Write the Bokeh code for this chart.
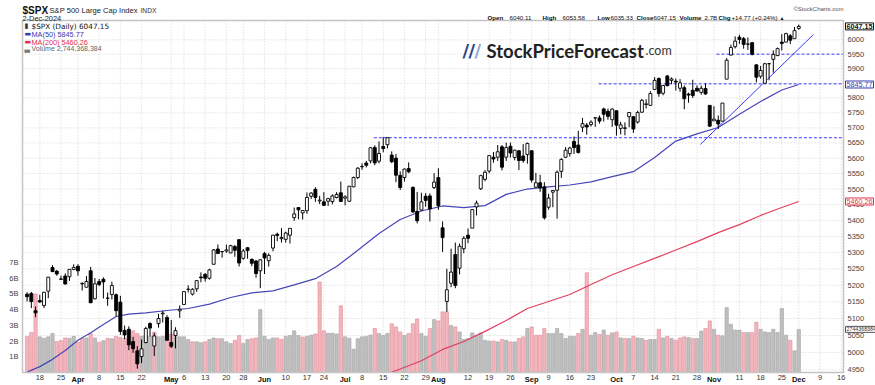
import math
from bokeh.plotting import figure
from bokeh.models import Range1d, LinearScale, Label, ColumnDataSource
from bokeh.core.properties import value
from bokeh.embed import file_html
from bokeh.resources import INLINE

# ---------------- data (daily, 13-Mar-2024 .. 2-Dec-2024) ----------------
opens = [5173, 5175, 5123, 5154, 5139, 5182, 5254, 5243, 5219, 5228, 5226, 5248,
         5258, 5204, 5194, 5244, 5159, 5211, 5218, 5161, 5172, 5171, 5149, 5065, 5068, 5032, 5005,
         4988, 5029, 5085, 5019, 5085, 5114, 5103,
         5029, 5050, 5123, 5142, 5188, 5173, 5189, 5225, 5233, 5221, 5264, 5311, 5303, 5305, 5299,
         5319, 5340, 5282, 5315, 5279, 5274, 5244,
         5297, 5275, 5314, 5357, 5343, 5341, 5354, 5409, 5441, 5424, 5431, 5477, 5499, 5462, 5459,
         5461, 5460, 5473, 5488,
         5471, 5461, 5507, 5537, 5572, 5584, 5591, 5635, 5590, 5638, 5644, 5610, 5600, 5544, 5537,
         5566, 5505, 5429, 5433, 5477, 5478, 5505,
         5537, 5377, 5151, 5206, 5294, 5252, 5312, 5354, 5376, 5443, 5501, 5531, 5558, 5603, 5603,
         5637, 5603, 5639, 5602, 5624, 5607, 5612,
         5624, 5506, 5520, 5507, 5442, 5490, 5496, 5557, 5603, 5615, 5655, 5643, 5702, 5709, 5711,
         5733, 5733, 5763, 5755, 5727,
         5757, 5698, 5698, 5737, 5737, 5719, 5752, 5778, 5775, 5829, 5866, 5816, 5875, 5860, 5857,
         5833, 5835, 5813, 5826, 5833, 5819, 5832, 5775,
         5723, 5725, 5722, 5864, 5947, 5976, 6009, 6004, 5985, 5990, 5913, 5874, 5850, 5917, 5932,
         5945, 5992, 5992, 6014, 6004,
         6040.11]
highs = [5179, 5180, 5136, 5171, 5180, 5225, 5261, 5246, 5229, 5236, 5249, 5264,
         5264, 5209, 5228, 5256, 5222, 5219, 5224, 5178, 5211, 5175, 5168, 5079, 5077, 5046, 5019,
         5038, 5076, 5089, 5057, 5114, 5123, 5110,
         5096, 5074, 5139, 5181, 5200, 5191, 5215, 5239, 5237, 5250, 5311, 5325, 5305, 5325, 5324,
         5323, 5341, 5311, 5316, 5282, 5277, 5280,
         5302, 5298, 5354, 5362, 5376, 5365, 5375, 5441, 5442, 5433, 5489, 5490, 5506, 5478, 5490,
         5472, 5483, 5490, 5524,
         5480, 5510, 5540, 5571, 5583, 5591, 5636, 5642, 5655, 5670, 5667, 5622, 5614, 5557, 5566,
         5586, 5509, 5491, 5488, 5487, 5486, 5551,
         5567, 5397, 5250, 5312, 5331, 5328, 5351, 5375, 5436, 5463, 5546, 5561, 5608, 5620, 5643,
         5643, 5651, 5651, 5628, 5627, 5646, 5651,
         5626, 5552, 5546, 5522, 5485, 5497, 5560, 5600, 5636, 5637, 5671, 5690, 5733, 5716, 5725,
         5735, 5741, 5767, 5764, 5765,
         5758, 5720, 5718, 5753, 5739, 5757, 5797, 5796, 5823, 5871, 5870, 5843, 5878, 5870, 5866,
         5864, 5842, 5818, 5862, 5843, 5842, 5850, 5775,
         5772, 5741, 5783, 5936, 5983, 6012, 6018, 6010, 6008, 5993, 5915, 5909, 5920, 5920, 5963,
         5973, 6020, 6025, 6020, 6045,
         6053.58]
lows = [5151, 5131, 5104, 5147, 5131, 5161, 5240, 5229, 5216, 5203, 5213, 5246,
        5229, 5184, 5194, 5146, 5157, 5197, 5160, 5138, 5157, 5107, 5052, 5039, 5007, 4999, 4953,
        4969, 5027, 5047, 4990, 5073, 5088, 5035,
        5013, 5012, 5102, 5142, 5178, 5169, 5180, 5209, 5211, 5217, 5263, 5296, 5284, 5299, 5298,
        5287, 5257, 5278, 5281, 5258, 5223, 5191,
        5234, 5257, 5304, 5335, 5331, 5331, 5328, 5399, 5404, 5403, 5421, 5468, 5459, 5452, 5447,
        5446, 5451, 5470, 5460,
        5448, 5459, 5507, 5532, 5562, 5570, 5583, 5577, 5583, 5619, 5632, 5584, 5522, 5497, 5524,
        5551, 5424, 5391, 5431, 5444, 5397, 5500,
        5434, 5302, 5120, 5194, 5191, 5233, 5298, 5329, 5376, 5416, 5497, 5525, 5551, 5585, 5591,
        5560, 5591, 5602, 5593, 5561, 5585, 5582,
        5521, 5504, 5491, 5403, 5434, 5442, 5406, 5536, 5601, 5605, 5614, 5615, 5686, 5677, 5704,
        5703, 5714, 5721, 5727, 5703,
        5674, 5678, 5675, 5702, 5683, 5714, 5750, 5764, 5775, 5829, 5804, 5809, 5840, 5847, 5825,
        5821, 5762, 5784, 5800, 5822, 5811, 5811, 5703,
        5723, 5696, 5722, 5864, 5945, 5970, 5986, 5969, 5965, 5946, 5853, 5866, 5850, 5860, 5886,
        5944, 5963, 5992, 5985, 6004,
        6035.33]
closes = [5165.31, 5150.48, 5117.09, 5149.42, 5178.51, 5224.62, 5241.53, 5234.18, 5218.19, 5203.58,
          5248.49, 5254.35,
          5243.77, 5205.81, 5211.49, 5147.21, 5204.34, 5202.39, 5209.91, 5160.64, 5199.06, 5123.41,
          5061.82, 5051.41, 5022.21, 5011.12, 4967.23, 5010.60, 5070.55, 5071.63, 5048.42, 5099.96,
          5116.17, 5035.69,
          5018.39, 5064.20, 5127.79, 5180.74, 5187.70, 5187.67, 5214.08, 5222.68, 5221.42, 5246.68,
          5308.15, 5297.10, 5303.27, 5308.13, 5321.41, 5307.01, 5267.84, 5304.72, 5306.04, 5266.95,
          5235.48, 5277.51,
          5283.40, 5291.34, 5354.03, 5352.96, 5346.99, 5360.79, 5375.32, 5421.03, 5433.74, 5431.60,
          5473.23, 5487.03, 5473.17, 5464.62, 5447.87, 5469.30, 5477.90, 5482.87, 5460.48,
          5475.09, 5509.01, 5537.02, 5567.19, 5572.85, 5576.98, 5633.91, 5584.54, 5615.35, 5631.22,
          5667.20, 5588.27, 5544.59, 5505.00, 5564.41, 5555.74, 5427.13, 5399.22, 5459.10, 5463.54,
          5436.44, 5522.30,
          5446.68, 5346.56, 5186.33, 5240.03, 5199.50, 5319.31, 5344.16, 5344.39, 5434.43, 5455.21,
          5543.22, 5554.25, 5608.25, 5597.12, 5620.85, 5570.64, 5634.61, 5616.84, 5625.80, 5592.18,
          5591.96, 5648.40,
          5528.93, 5520.07, 5503.41, 5408.42, 5471.05, 5495.52, 5554.13, 5595.76, 5626.02, 5633.09,
          5634.58, 5618.26, 5713.64, 5702.55, 5718.57, 5732.93, 5722.26, 5745.37, 5738.17, 5762.48,
          5708.75, 5709.54, 5699.94, 5751.07, 5695.94, 5751.13, 5792.04, 5780.05, 5815.03, 5859.85,
          5815.26, 5842.47, 5841.47, 5864.67, 5853.98, 5851.20, 5797.42, 5809.86, 5808.12, 5823.52,
          5832.92, 5813.67, 5705.45,
          5728.80, 5712.69, 5782.76, 5929.04, 5973.10, 5995.54, 6001.35, 5983.99, 5985.38, 5949.17,
          5870.62, 5893.62, 5916.98, 5917.11, 5948.71, 5969.34, 5987.37, 6021.63, 5998.74, 6032.38,
          6047.15]
volumes_b = [2.30, 2.55, 5.00, 2.27, 2.18, 2.27, 2.48, 1.97, 2.03, 2.20, 2.18, 2.30,
             1.93, 2.16, 2.20, 2.48, 2.20, 1.93, 2.03, 2.18, 2.14, 2.30, 2.22, 2.16, 2.27, 2.65, 2.48,
             2.30, 2.36, 2.30, 2.58, 2.27, 2.30, 2.62,
             2.45, 2.48, 2.27, 2.27, 2.10, 1.95, 1.95, 1.90, 1.95, 2.10, 2.20, 2.15, 2.15, 1.95, 1.85,
             2.05, 2.35, 1.85, 2.10, 2.15, 2.20, 4.00,
             2.30, 2.10, 2.20, 2.20, 2.10, 2.30, 2.35, 2.65, 2.35, 2.25, 2.30, 2.38, 2.45, 5.76, 2.65,
             2.50, 2.50, 2.45, 4.24,
             2.27, 2.18, 1.48, 2.15, 2.27, 2.30, 2.38, 2.80, 2.48, 2.36, 2.48, 3.10, 2.90, 2.58, 2.36,
             2.48, 3.10, 3.40, 2.48, 2.30, 2.80, 3.37,
             3.28, 3.86, 3.86, 3.00, 2.90, 2.58, 2.10, 2.16, 2.52, 2.37, 2.52, 2.05, 2.00, 2.00, 1.95,
             2.10, 2.05, 1.95, 1.95, 2.16, 2.27, 2.80,
             2.90, 2.37, 2.37, 2.80, 2.48, 2.48, 2.80, 2.48, 2.16, 2.30, 2.30, 2.48, 2.75, 6.35, 2.37,
             2.54, 2.42, 2.70, 2.37, 2.52,
             2.58, 2.20, 2.16, 2.16, 2.30, 2.20, 2.16, 2.05, 2.10, 2.10, 2.75, 2.20, 2.30, 2.16, 2.05,
             2.20, 2.27, 2.23, 2.16, 2.16, 2.63, 2.80, 3.28,
             2.75, 2.37, 2.33, 4.13, 3.07, 2.70, 2.70, 2.54, 2.54, 2.54, 3.20, 2.75, 2.58, 2.54, 2.75,
             2.54, 4.07, 2.37, 2.05, 1.38,
             2.744]
prior_close = 5175.27

# x-axis ticks (trading-day index from 13-Mar-2024) and labels
tick_idx = [3, 8, 12, 17, 22, 27, 34, 37, 42, 47, 51, 56, 61, 66, 70, 75, 79, 84, 89, 94,
            97, 104, 109, 114, 119, 123, 128, 133, 139, 143, 148, 153, 158, 162, 168, 173,
            178, 182, 187, 192]
tick_labels = ["18", "25", "Apr", "8", "15", "22", "May", "6", "13", "20", "28", "Jun", "10",
               "17", "24", "Jul", "8", "15", "22", "29", "Aug", "12", "19", "26", "Sep", "9",
               "16", "23", "Oct", "7", "14", "21", "28", "Nov", "11", "18", "25", "Dec", "9", "16"]
month_names = ["Jan", "Feb", "Mar", "Apr", "May", "Jun", "Jul", "Aug", "Sep", "Oct", "Nov", "Dec"]
price_ticks = [4950, 5000, 5050, 5100, 5150, 5200, 5250, 5300, 5350, 5400, 5450, 5500,
               5550, 5600, 5650, 5700, 5750, 5800, 5850, 5900, 5950, 6000]
vol_ticks = [1, 2, 3, 4, 5, 6, 7]

# moving averages
ma50_idx = [0, 3, 6, 9, 12, 15, 18, 21, 24, 28, 33, 38, 43, 48, 53, 58, 63, 68, 73, 78, 83,
            88, 93, 98, 103, 108, 113, 118, 123, 128, 133, 138, 143, 148, 153, 158, 163, 168,
            173, 178, 182]
ma50_val = [4943, 4959, 4980, 5006, 5036, 5058, 5082, 5106, 5113, 5117, 5124, 5130, 5143, 5163,
            5177, 5183, 5201, 5220, 5257, 5307, 5359, 5403, 5430, 5446, 5441, 5447, 5483, 5500,
            5507, 5513, 5523, 5540, 5556, 5602, 5656, 5680, 5701, 5745, 5788, 5827, 5845.77]
ma200_idx = [86, 88, 93, 98, 103, 108, 113, 118, 123, 128, 133, 138, 143, 148, 153, 158, 163,
             168, 173, 178, 182]
ma200_val = [4943, 4952, 4976, 5009, 5032, 5062, 5094, 5130, 5151, 5172, 5202, 5232, 5257, 5282,
             5308, 5334, 5362, 5387, 5416, 5441, 5460.26]

# annotation lines
level_vals = [5667, 5848, 5950]
level_start = [81.8, 134.8, 162.6]
trend_idx = [158.8, 185.5]
trend_val = [5645, 6019]

# ---------------- layout of the chart panel inside the 875x385 canvas ----------------
W, H = 875, 385
PL, PR, PT, PB = 22, 843, 20, 372          # panel edges in canvas pixels
X0, X1 = -1.08, 192.55                      # panel x range (trading-day index)
Y0, Y1 = 4942.0, 6068.0                     # panel price range (log)
V1 = 22.4                                   # panel volume range top (billions)
kx = (PR - PL) / (X1 - X0)
LY = math.log(Y1 / Y0) / (PB - PT)
kv = (PB - PT) / V1
XA, XB = X0 - PL / kx, X1 + (W - PR) / kx
YA, YB = Y0 * math.exp(-(H - PB) * LY), Y1 * math.exp(PT * LY)
VA, VB = -(H - PB) / kv, V1 + PT / kv
FONT = "Liberation Sans"

p = figure(width=W, height=H, x_range=Range1d(XA, XB), y_range=Range1d(YA, YB),
           y_axis_type="log", x_axis_location=None, y_axis_location=None,
           output_backend="svg", toolbar_location=None, min_border=0)
p.title.visible = False
p.grid.visible = False
p.outline_line_color = None
p.background_fill_color = "white"
p.border_fill_color = "white"
p.extra_y_ranges = {"vol": Range1d(VA, VB)}
p.extra_y_scales = {"vol": LinearScale()}

# grid (dotted)
p.segment(x0=[X0] * len(price_ticks), x1=[X1] * len(price_ticks), y0=price_ticks, y1=price_ticks,
          line_color="#d4d4d4", line_dash="1 2", line_width=1)
p.segment(x0=tick_idx, x1=tick_idx, y0=[Y0] * len(tick_idx), y1=[Y1] * len(tick_idx),
          line_color="#d4d4d4", line_dash="1 2", line_width=1)

# volume
n = len(closes)
xs = list(range(n))
prev = [prior_close] + closes[:-1]
down = [c < pc for c, pc in zip(closes, prev)]
vsrc = ColumnDataSource(dict(
    x=xs, v=volumes_b,
    fill=["#f3b6bd" if d else "#bfbfbf" for d in down],
    line=["#e08a98" if d else "#a3a3a3" for d in down]))
p.vbar(x="x", top="v", bottom=0, width=0.78, fill_color="fill", line_color="line",
       line_width=0.6, source=vsrc, y_range_name="vol")

# moving averages, levels, trend line
p.line(ma200_idx, ma200_val, line_color="#e2405e", line_width=1.2)
p.line(ma50_idx, ma50_val, line_color="#4646b8", line_width=1.2)
for lv, ls in zip(level_vals, level_start):
    p.line([ls, X1], [lv, lv], line_color="#3c3cff", line_width=1, line_dash="3 2")
p.line(trend_idx, trend_val, line_color="#3c3cf0", line_width=1)

# candles
csrc = ColumnDataSource(dict(
    x=xs, o=opens, h=highs, l=lows, c=closes,
    top=[max(a, b) for a, b in zip(opens, closes)],
    bot=[min(a, b) for a, b in zip(opens, closes)],
    fill=["white" if c > o else "black" for o, c in zip(opens, closes)]))
p.segment(x0="x", y0="l", x1="x", y1="h", line_color="black", line_width=1, source=csrc)
p.vbar(x="x", top="top", bottom="bot", width=0.7, fill_color="fill", line_color="black",
       line_width=0.9, source=csrc)

# panel border
p.quad(left=[X0], right=[X1], bottom=[Y0], top=[Y1], fill_color=None,
       line_color="#c4c4c4", line_width=1.5)

# ---------------- axes (tick labels) ----------------
p.text(x=[X1] * len(price_ticks), y=price_ticks, text=[str(t) for t in price_ticks],
       x_offset=4, text_font=value(FONT), text_font_size="7.5px", text_color="#444444",
       text_align="left", text_baseline="middle")
p.text(x=[X0] * len(vol_ticks), y=vol_ticks, text=[f"{v}B" for v in vol_ticks],
       x_offset=-4, text_font=value(FONT), text_font_size="7.5px", text_color="#444444",
       text_align="right", text_baseline="middle", y_range_name="vol")
wk = [(t, l) for t, l in zip(tick_idx, tick_labels) if l not in month_names]
mo = [(t, l) for t, l in zip(tick_idx, tick_labels) if l in month_names]
p.text(x=[t for t, _ in wk], y=[Y0] * len(wk), text=[l for _, l in wk], y_offset=2,
       text_font=value(FONT), text_font_size="7.5px", text_color="#333333",
       text_align="center", text_baseline="top")
p.text(x=[t for t, _ in mo], y=[Y0] * len(mo), text=[l for _, l in mo], y_offset=2,
       text_font=value(FONT), text_font_size="7.5px", text_color="#111111",
       text_font_style="bold", text_align="center", text_baseline="top")


# ---------------- texts ----------------
def lab(text, ix, iy, size, color="#222222", bold=False, font=FONT, align="left",
        baseline="alphabetic", **kw):
    p.add_layout(Label(text=text, x=ix, y=H - iy, x_units="screen", y_units="screen",
                       text_font=font, text_font_size=f"{size}px", text_color=color,
                       text_font_style="bold" if bold else "normal", text_align=align,
                       text_baseline=baseline, **kw))


# header (left)
lab("$SPX", 22, 10, 10, "#111111", bold=True)
lab("S&P 500 Large Cap Index", 49, 9.5, 7.6, "#222222")
lab("INDX", 140, 9.5, 6.7, "#333333")
lab("2-Dec-2024", 22, 17.5, 7.4, "#222222")

# header (right)
hdr = [("Open", True, 487), ("6040.11", False, 509), ("High", True, 542), ("6053.58", False, 562),
       ("Low", True, 597), ("6035.33", False, 610), ("Close", True, 636), ("6047.15", False, 653),
       ("Volume", True, 679), ("2.7B", False, 704), ("Chg", True, 718),
       ("+14.77 (+0.24%)", False, 731), ("\u25b2", False, 779)]
for t, b, xx in hdr:
    lab(t, xx, 17.3, 6.2 if t != "\u25b2" else 5, "#111111", bold=b)
lab("\u00a9StockCharts.com", 843, 8.5, 6, "#555555", align="right")

# legend inside the panel
lab("\u25ae", 24, 21.5, 7, "#333333", baseline="top", font="DejaVu Sans")
lab("$SPX (Daily) 6047.15", 31, 21.5, 7.3, "#111111", baseline="top", font="DejaVu Sans")
lab("\u25ac", 24, 29.5, 7, "#3a3ab0", baseline="top", font="DejaVu Sans")
lab("MA(50) 5845.77", 31, 29.5, 7.3, "#3a3ab0", baseline="top")
lab("\u25ac", 24, 37.5, 7, "#e0304f", baseline="top", font="DejaVu Sans")
lab("MA(200) 5460.26", 31, 37.5, 7.3, "#e0304f", baseline="top")
lab("\u2583", 24, 44.5, 7, "#777777", baseline="top", font="DejaVu Sans")
lab("Volume 2,744,368,384", 31, 44.5, 7.0, "#666666", baseline="top")

# logo
for xx, col in zip([462, 468, 474], ["#27437d", "#27437d", "#93a8cf"]):
    lab("/", xx, 50, 18, col, bold=True, font="DejaVu Sans")
lab("StockPriceForecast", 486, 50, 18.5, "#222222", font="Lato", bold=True)
lab(".com", 645, 50, 12.5, "#333333", font="Lato")

# boxed last values on the price scale
for val, txt, col, bold in [(closes[-1], "6047.15", "#111111", True),
                            (ma50_val[-1], "5845.77", "#3a3ab0", False),
                            (ma200_val[-1], "5460.26", "#e0304f", False)]:
    p.add_layout(Label(text=txt, x=X1, y=val, x_offset=2, text_font=FONT, text_font_size="7.2px",
                       text_font_style="bold" if bold else "normal", text_color=col,
                       text_align="left", text_baseline="middle", background_fill_color="white",
                       border_line_color=col, border_line_width=1, padding=1))
p.add_layout(Label(text="2744368384", x=X1, y=volumes_b[-1], y_range_name="vol", x_offset=2,
                   text_font=FONT, text_font_size="5.3px", text_color="#333333",
                   text_align="left", text_baseline="middle", background_fill_color="white",
                   border_line_color="#555555", border_line_width=1, padding=1))

open("out.html", "w").write(file_html(p, INLINE))
